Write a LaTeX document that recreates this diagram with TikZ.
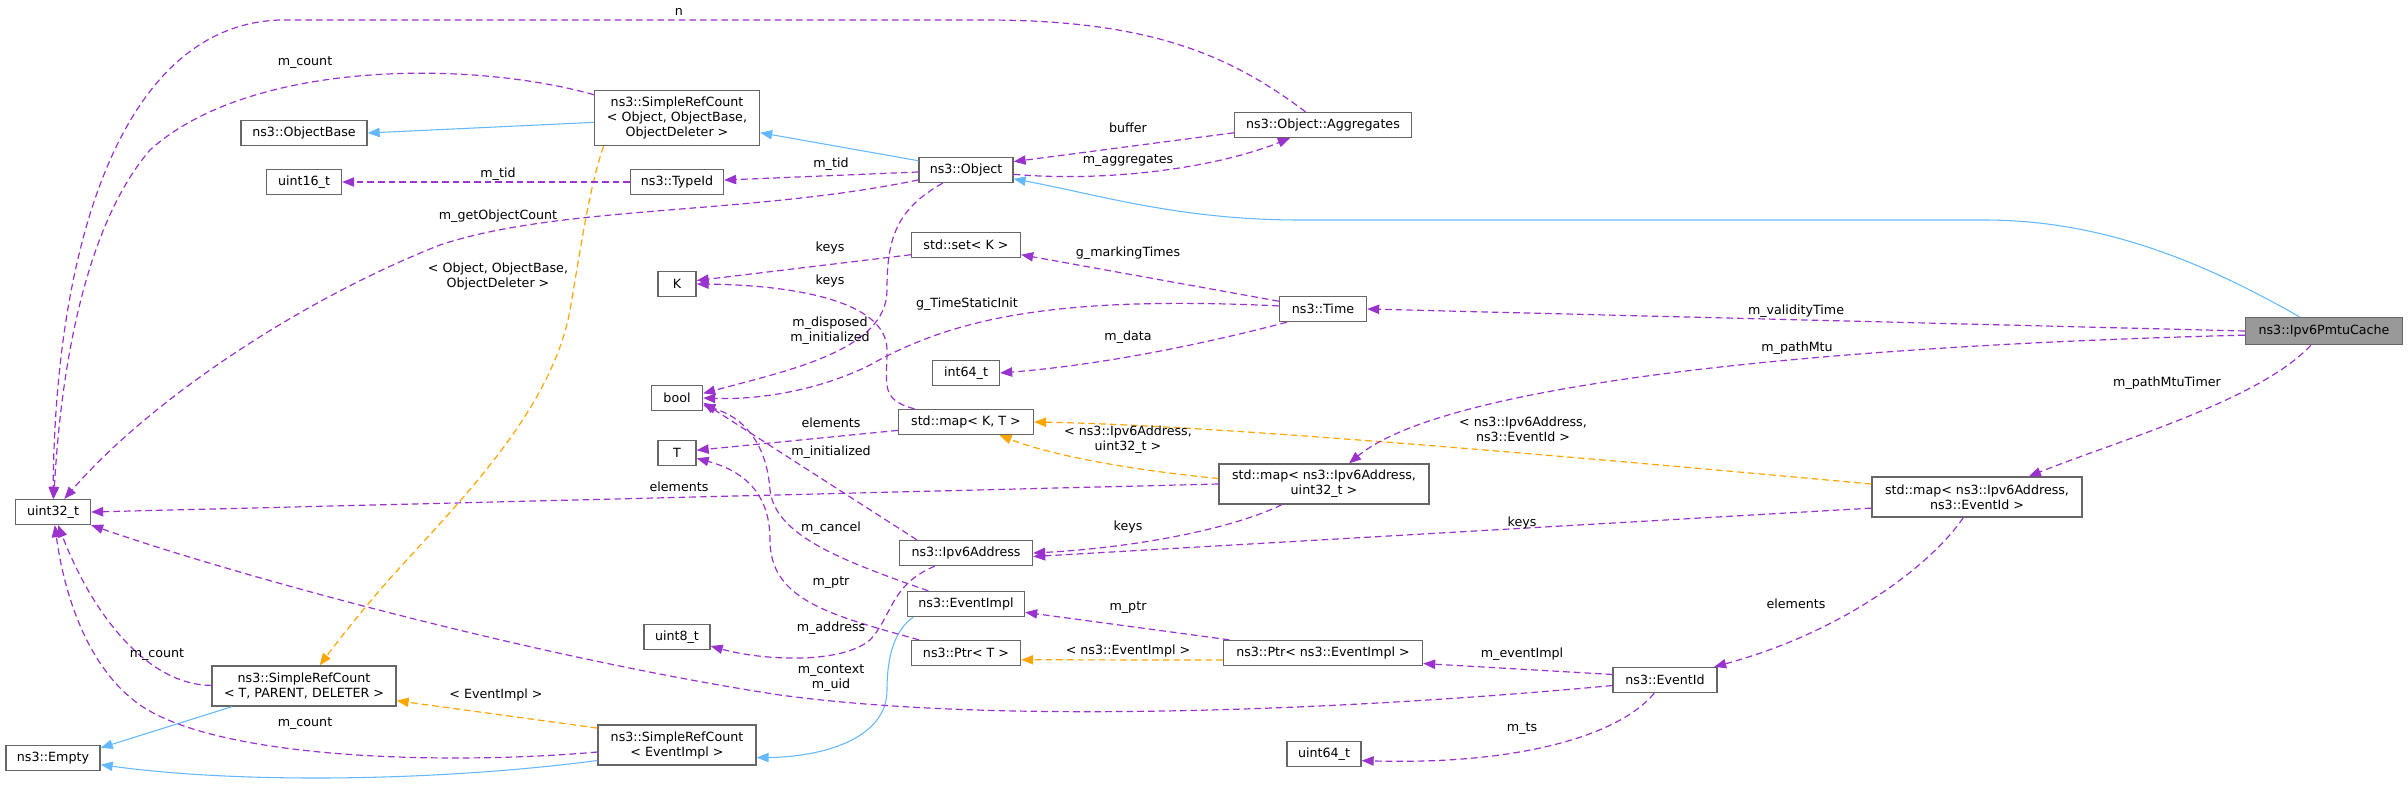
\documentclass[tikz,border=0pt]{standalone}
\usepackage{fontspec}
\setmainfont{DejaVu Sans}
\usepackage{tikz}
\usetikzlibrary{arrows.meta}
\definecolor{usecol}{HTML}{9A32CD}
\definecolor{tmplcol}{HTML}{FFA500}
\definecolor{inhcol}{HTML}{63B8FF}
\definecolor{boxcol}{HTML}{666666}
\definecolor{rootfill}{HTML}{999999}
\tikzset{
  typenode/.style={draw=boxcol, line width=1pt, fill=white, inner sep=1pt, minimum height=18.75pt, align=center, font=\fontsize{9.5}{11.25}\selectfont},
  edgelab/.style={inner sep=0pt, align=center, font=\fontsize{9.5}{11.25}\selectfont},
  usage/.style={draw=usecol, line width=0.9pt, dash pattern=on 5pt off 3pt, -{Triangle[length=9pt,width=7pt]}},
  tmpl/.style={usage, draw=tmplcol},
  inherit/.style={draw=inhcol, line width=0.8pt, -{Triangle[length=9pt,width=7pt]}}
}
\newcommand{\typebox}[4]{\node[typenode, minimum width=#3] (#1) at (#2) {#4};}
\newcommand{\edgelabel}[3]{\node[edgelab] (#1) at (#2) {#3};}

\begin{document}
\begin{tikzpicture}[x=0.75pt,y=-0.75pt]
\useasboundingbox (0,0) rectangle (2408,786);
% left column
\typebox{u32}{53,512}{56.25pt}{uint32\_t}
\typebox{empty}{53,758}{70.5pt}{ns3::Empty}
% second column
\typebox{objbase}{304,133}{94.5pt}{ns3::ObjectBase}
\typebox{u16}{304,182}{56.25pt}{uint16\_t}
\node[typenode, minimum width=138pt, minimum height=30pt] (srcT) at (304,686) {ns3::SimpleRefCount\\< T, PARENT, DELETER >};
% third column
\node[typenode, minimum width=123.75pt, minimum height=41.25pt] (srcObj) at (677,118) {ns3::SimpleRefCount\\< Object, ObjectBase,\\ObjectDeleter >};
\typebox{typeid}{677,182}{69.75pt}{ns3::TypeId}
\typebox{keyK}{677,284}{28.5pt}{K}
\typebox{bool}{677,398}{38.25pt}{bool}
\typebox{typeT}{677,453}{28.5pt}{T}
\typebox{u8}{677,637}{49.5pt}{uint8\_t}
\node[typenode, minimum width=118.5pt, minimum height=30pt] (srcEv) at (677,745) {ns3::SimpleRefCount\\< EventImpl >};
% fourth column
\typebox{object}{966,170}{70.5pt}{ns3::Object}
\typebox{setK}{966,245}{81.75pt}{std::set< K >}
\typebox{int64}{966,373}{50.25pt}{int64\_t}
\typebox{mapKT}{966,422}{101.25pt}{std::map< K, T >}
\typebox{addr}{966,553}{99.75pt}{ns3::Ipv6Address}
\typebox{evimpl}{966,604}{87.75pt}{ns3::EventImpl}
\typebox{ptrT}{966,653}{81.75pt}{ns3::Ptr< T >}
% fifth column
\typebox{aggr}{1323,125}{132.75pt}{ns3::Object::Aggregates}
\typebox{time}{1323,309}{65.25pt}{ns3::Time}
\node[typenode, minimum width=157.5pt, minimum height=30pt] (mapAddrU32) at (1324,484) {std::map< ns3::Ipv6Address,\\uint32\_t >};
\typebox{ptrEv}{1323,653}{149.25pt}{ns3::Ptr< ns3::EventImpl >}
\typebox{u64}{1324,754}{55.5pt}{uint64\_t}
% right side
\typebox{eventid}{1665,680}{78pt}{ns3::EventId}
\node[typenode, minimum width=157.5pt, minimum height=30pt] (mapAddrEv) at (1977,497) {std::map< ns3::Ipv6Address,\\ns3::EventId >};
\node[typenode, fill=rootfill, minimum width=117.75pt, minimum height=20.25pt] (cache) at (2324,331) {ns3::Ipv6PmtuCache};

% inheritance
\draw[inherit] (srcObj.183) -- (objbase.east);
\draw[inherit] (object.169) -- (srcObj.-10);
\draw[inherit] (cache.150) .. controls (2200,260) and (2100,220) .. (1984,220) -- (1300,220) .. controls (1180,220) and (1100,195) .. (object);
\draw[inherit] (srcT.196) -- (empty.12);
\draw[inherit] (srcEv.191) .. controls (450,780) and (250,785) .. (empty.-8);
\draw[inherit] (evimpl.194) .. controls (895,630) and (887,655) .. (887,690) .. controls (887,740) and (820,757) .. (srcEv.-9);

% template instances
\draw[tmpl] (srcObj.201) .. controls (590,185) and (582,240) .. (570,310) .. controls (550,420) and (440,520) .. (380,590) .. controls (350,625) and (335,645) .. (srcT);
\draw[tmpl] (srcEv.168) -- (srcT.-9);
\draw[tmpl] (mapAddrU32.177) .. controls (1130,470) and (1050,455) .. (mapKT);
\draw[tmpl] (mapAddrEv.173) .. controls (1500,450) and (1200,425) .. (mapKT.east);
\draw[tmpl] (ptrEv.184) -- (ptrT.-7);

% members
\draw[usage] (aggr) .. controls (1230,55) and (1150,20) .. (985,20) -- (280,20) .. controls (120,25) and (55,250) .. (u32);
\draw[usage] (srcObj) .. controls (470,60) and (250,60) .. (150,150) .. controls (90,220) and (62,350) .. (u32);
\draw[usage] (object) .. controls (750,215) and (560,205) .. (440,245) .. controls (300,300) and (150,400) .. (u32);
\draw[usage] (object) -- (typeid);
\draw[usage] (typeid) -- (u16);
\draw[usage] (object) .. controls (1100,182) and (1210,170) .. (aggr);
\draw[usage] (aggr.185) -- (object.10);
\draw[usage] (cache.west) -- (time.east);
\draw[usage] (cache.183) .. controls (1850,345) and (1450,380) .. (mapAddrU32);
\draw[usage] (cache) .. controls (2260,400) and (2120,440) .. (mapAddrEv);
\draw[usage] (time.170) -- (setK.-10);
\draw[usage] (time.176) .. controls (1050,295) and (950,320) .. (870,365) .. controls (820,390) and (760,400) .. (bool.east);
\draw[usage] (time.200) .. controls (1200,345) and (1100,365) .. (int64.east);
\draw[usage] (setK.190) -- (keyK.10);
\draw[usage] (mapKT) .. controls (880,400) and (887,385) .. (887,350) .. controls (887,300) and (790,285) .. (keyK.east);
\draw[usage] (object) .. controls (895,210) and (887,240) .. (887,290) .. controls (887,350) and (790,370) .. (bool.10);
\draw[usage] (mapKT.187) -- (typeT.8);
\draw[usage] (addr.165) -- (bool.-10);
\draw[usage] (mapAddrU32.west) -- (u32.east);
\draw[usage] (mapAddrU32) .. controls (1230,530) and (1130,548) .. (addr.east);
\draw[usage] (mapAddrEv.186) -- (addr.-3);
\draw[usage] (evimpl) .. controls (840,560) and (775,535) .. (770,490) .. controls (767,450) and (750,420) .. (bool.-15);
\draw[usage] (ptrT) .. controls (830,615) and (770,600) .. (770,540) .. controls (770,490) and (740,470) .. (typeT);
\draw[usage] (addr) .. controls (890,585) and (893,615) .. (870,640) .. controls (840,665) and (760,660) .. (u8.-15);
\draw[usage] (ptrEv.172) -- (evimpl.-8);
\draw[usage] (eventid.174) -- (ptrEv.-6);
\draw[usage] (eventid.186) .. controls (1350,710) and (1000,725) .. (780,695) .. controls (550,660) and (250,580) .. (u32);
\draw[usage] (eventid) .. controls (1620,735) and (1520,765) .. (u64.-10);
\draw[usage] (mapAddrEv) .. controls (1935,560) and (1850,630) .. (eventid.15);
\draw[usage] (srcT) .. controls (150,685) and (95,620) .. (u32);
\draw[usage] (srcEv) .. controls (450,765) and (220,760) .. (140,705) .. controls (90,670) and (65,600) .. (u32);

% edge labels
\edgelabel{lN}{679,12}{n}
\edgelabel{lCountObj}{305,63}{m\_count}
\edgelabel{lTidType}{498,174}{m\_tid}
\edgelabel{lTidObj}{831,164}{m\_tid}
\edgelabel{lObjCount}{498,216}{m\_getObjectCount}
\edgelabel{lTmplObj}{498,276}{< Object, ObjectBase,\\ObjectDeleter >}
\edgelabel{lBuffer}{1128,128}{buffer}
\edgelabel{lAggr}{1128,161}{m\_aggregates}
\edgelabel{lKeysSet}{830,248}{keys}
\edgelabel{lMarking}{1128,253}{g\_markingTimes}
\edgelabel{lKeysMap}{830,281}{keys}
\edgelabel{lStatic}{967,304}{g\_TimeStaticInit}
\edgelabel{lDisposed}{830,331}{m\_disposed\\m\_initialized}
\edgelabel{lData}{1128,337}{m\_data}
\edgelabel{lValidity}{1796,311}{m\_validityTime}
\edgelabel{lPathMtu}{1797,348}{m\_pathMtu}
\edgelabel{lTimer}{2167,383}{m\_pathMtuTimer}
\edgelabel{lElemKT}{831,423}{elements}
\edgelabel{lTmplU32}{1128,440}{< ns3::Ipv6Address,\\uint32\_t >}
\edgelabel{lTmplEv}{1523,429}{< ns3::Ipv6Address,\\ns3::EventId >}
\edgelabel{lInitAddr}{831,452}{m\_initialized}
\edgelabel{lElemU32}{679,487}{elements}
\edgelabel{lKeysU32}{1128,527}{keys}
\edgelabel{lKeysEv}{1522,523}{keys}
\edgelabel{lCancel}{831,528}{m\_cancel}
\edgelabel{lPtrT}{831,583}{m\_ptr}
\edgelabel{lElemEv}{1796,604}{elements}
\edgelabel{lPtrEv}{1128,608}{m\_ptr}
\edgelabel{lAddress}{831,628}{m\_address}
\edgelabel{lTmplImpl}{1128,651}{< ns3::EventImpl >}
\edgelabel{lEventImpl}{1522,654}{m\_eventImpl}
\edgelabel{lCountT}{157,655}{m\_count}
\edgelabel{lContext}{831,678}{m\_context\\m\_uid}
\edgelabel{lTmplSrc}{496,695}{< EventImpl >}
\edgelabel{lCountEv}{305,724}{m\_count}
\edgelabel{lTs}{1522,729}{m\_ts}
\end{tikzpicture}
\end{document}
